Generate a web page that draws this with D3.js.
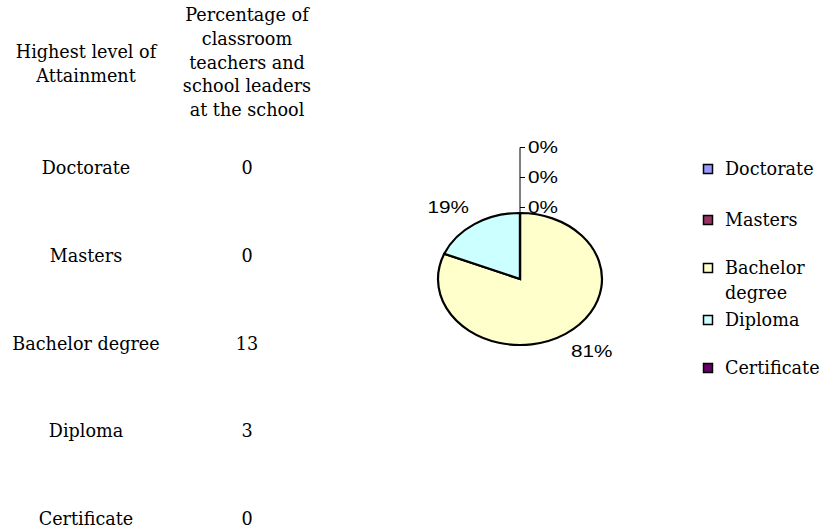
<!DOCTYPE html>
<html>
<head>
<meta charset="utf-8">
<script src="https://cdn.jsdelivr.net/npm/d3@7"></script>
<style>
  body { margin: 0; background: #fff; }
  .serif { font-family: "Palatino Linotype", "Book Antiqua", "DejaVu Serif", serif; font-size: 17.6px; fill: #000; }
  .sans { font-family: "Liberation Sans", Arial, sans-serif; font-size: 17px; fill: #000; }
</style>
</head>
<body>
<div id="chart"></div>
<script>
// Data
const categories = ["Doctorate", "Masters", "Bachelor degree", "Diploma", "Certificate"];
const values = [0, 0, 13, 3, 0];
const colors = ["#9999FF", "#993366", "#FFFFCC", "#CCFFFF", "#660066"];
const headerCol1 = ["Highest level of", "Attainment"];
const headerCol2 = ["Percentage of", "classroom", "teachers and", "school leaders", "at the school"];
const legendLines = [["Doctorate"], ["Masters"], ["Bachelor", "degree"], ["Diploma"], ["Certificate"]];

const width = 823, height = 530;
const svg = d3.select("#chart").append("svg")
    .attr("width", width)
    .attr("height", height);

// Table on the left
const col1X = 86, col2X = 247;
const table = svg.append("g");

table.append("text").attr("class", "serif")
    .attr("text-anchor", "middle")
    .selectAll("tspan")
    .data(headerCol1)
    .join("tspan")
    .attr("x", col1X)
    .attr("y", (d, i) => 52 + i * 23.5)
    .attr("dy", "0.35em")
    .text(d => d);

table.append("text").attr("class", "serif")
    .attr("text-anchor", "middle")
    .selectAll("tspan")
    .data(headerCol2)
    .join("tspan")
    .attr("x", col2X)
    .attr("y", (d, i) => 15 + i * 23.75)
    .attr("dy", "0.35em")
    .text(d => d);

const rowY = d3.scalePoint().domain(categories).range([168, 519]);

table.selectAll(".cat")
    .data(categories)
    .join("text")
    .attr("class", "serif cat")
    .attr("x", col1X)
    .attr("y", d => rowY(d))
    .attr("dy", "0.35em")
    .attr("text-anchor", "middle")
    .text(d => d);

table.selectAll(".val")
    .data(values)
    .join("text")
    .attr("class", "serif val")
    .attr("x", col2X)
    .attr("y", (d, i) => rowY(categories[i]))
    .attr("dy", "0.35em")
    .attr("text-anchor", "middle")
    .text(d => d);

// Pie (flattened into an ellipse)
const cx = 520, cy = 279, rx = 82, ry = 66;
const total = d3.sum(values);
const pie = d3.pie().sort(null).value(d => d);
const arcs = pie(values);
const arc = d3.arc().innerRadius(0).outerRadius(rx);

const pieG = svg.append("g").attr("transform", `translate(${cx},${cy})`);
pieG.append("g")
    .attr("transform", `scale(1,${ry / rx})`)
    .selectAll("path")
    .data(arcs)
    .join("path")
    .attr("d", arc)
    .attr("fill", (d, i) => colors[i])
    .attr("stroke", "#000")
    .attr("stroke-width", 2.2)
    .attr("vector-effect", "non-scaling-stroke");

const fmt = d => Math.round(d.value / total * 100) + "%";
const stretch = 1.22; // label font is drawn a bit wide

// Non-zero labels just outside the ellipse
arcs.filter(d => d.value > 0).forEach(d => {
    const a = (d.startAngle + d.endAngle) / 2;
    const sx = Math.sign(Math.sin(a)), sy = Math.sign(-Math.cos(a));
    const x = Math.sin(a) * rx + sx * 5.5;
    const y = -Math.cos(a) * ry + sy * 17;
    pieG.append("text")
        .attr("class", "sans")
        .attr("transform", `translate(${x},${y}) scale(${stretch},1)`)
        .attr("dy", "0.35em")
        .attr("text-anchor", sx < 0 ? "end" : "start")
        .text(fmt(d));
});

// Zero slices: stacked above the top of the pie on a leader line
const zeros = arcs.filter(d => d.value === 0);
const step = 30;
if (zeros.length) {
    const baseY = -ry - 5.5;
    const ys = zeros.map((d, i) => baseY - (zeros.length - 1 - i) * step);
    pieG.append("line")
        .attr("x1", 0).attr("x2", 0)
        .attr("y1", -ry).attr("y2", d3.min(ys))
        .attr("stroke", "#000").attr("stroke-width", 1);
    zeros.forEach((d, i) => {
        pieG.append("line")
            .attr("x1", 0).attr("x2", 5)
            .attr("y1", ys[i]).attr("y2", ys[i])
            .attr("stroke", "#000").attr("stroke-width", 1);
        pieG.append("text")
            .attr("class", "sans")
            .attr("transform", `translate(8,${ys[i]}) scale(${stretch},1)`)
            .attr("dy", "0.35em")
            .text(fmt(d));
    });
}

// Legend
const legendY = [169, 220, 268, 320, 368];
const legend = svg.append("g").attr("transform", "translate(703,0)");
legendLines.forEach((lines, i) => {
    const g = legend.append("g").attr("transform", `translate(0,${legendY[i]})`);
    g.append("rect")
        .attr("x", 0.5).attr("y", -4.5)
        .attr("width", 9).attr("height", 9)
        .attr("fill", colors[i])
        .attr("stroke", "#000")
        .attr("stroke-width", 1.5);
    g.append("text")
        .attr("class", "serif")
        .selectAll("tspan")
        .data(lines)
        .join("tspan")
        .attr("x", 22)
        .attr("y", (d, j) => j * 25)
        .attr("dy", "0.35em")
        .text(d => d);
});
</script>
</body>
</html>
